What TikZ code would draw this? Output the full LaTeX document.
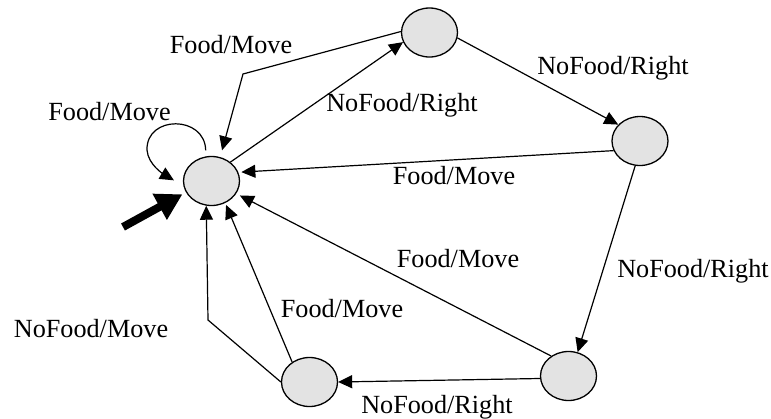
\documentclass[tikz,border=0pt]{standalone}
\usepackage{fontspec}
\setmainfont{Liberation Serif}
\usetikzlibrary{arrows.meta,shapes.geometric}
\definecolor{stategray}{HTML}{E3E3E3}
\begin{document}
\begin{tikzpicture}[x=1pt,y=-1pt,
  state/.style={ellipse,draw,line width=1.3pt,fill=stategray,
    minimum width=56pt,minimum height=49pt,inner sep=0pt},
  arr/.style={line width=1.2pt,-{Triangle[length=14pt,width=13pt]}},
  startarr/.style={line width=8pt,-{Triangle[length=26pt,width=28pt]}},
  lbl/.style={font=\fontsize{26.2}{30}\selectfont,inner sep=0pt,anchor=base}]
\useasboundingbox (0,0) rectangle (771,418);

% states
\node[state] (A) at (211.5,181) {};
\node[state] (B) at (429.5,32.5) {};
\node[state] (C) at (640,141) {};
\node[state] (D) at (568.5,376) {};
\node[state] (E) at (309.5,382) {};

% bend points and free end of the start arrow
\coordinate (bendBA) at (243,74);
\coordinate (bendEA) at (208,320);
\coordinate (startT) at (123,227);

% initial-state arrow
\draw[startarr, shorten >=4pt] (startT) -- (A.204);

% self loop on A
\draw[arr, shorten <=6pt, shorten >=11pt] (A.103)
  .. controls (205,115) and (146,115) .. (147,150)
  .. controls (148,165) and (165,175) .. (A.190);

% transitions
\draw[arr, shorten >=7pt] (B.178) -- (bendBA) -- (A.70);
\draw[arr] (A.45) -- (B.200);
\draw[arr] (B.349) -- (C.143);
\draw[arr, shorten >=3pt] (C.200) -- (A.18);
\draw[arr] (C.259) -- (D.69);
\draw[arr, shorten >=4pt] (D.131) -- (A.333);
\draw[arr] (D.185) -- (E.0);
\draw[arr, shorten >=2pt] (E.131) -- (A.302);
\draw[arr] (E.180) -- (bendEA) -- (A.258);

% transition labels
\node[lbl] (l1) at (109.5,120) {Food/Move};
\node[lbl] (l2) at (231,53) {Food/Move};
\node[lbl] (l3) at (402,111) {NoFood/Right};
\node[lbl] (l4) at (613,74) {NoFood/Right};
\node[lbl] (l5) at (454,184) {Food/Move};
\node[lbl] (l6) at (693,277) {NoFood/Right};
\node[lbl] (l7) at (458,267) {Food/Move};
\node[lbl] (l8) at (342,317) {Food/Move};
\node[lbl] (l9) at (91,337) {NoFood/Move};
\node[lbl] (l10) at (437,413) {NoFood/Right};
\end{tikzpicture}
\end{document}
